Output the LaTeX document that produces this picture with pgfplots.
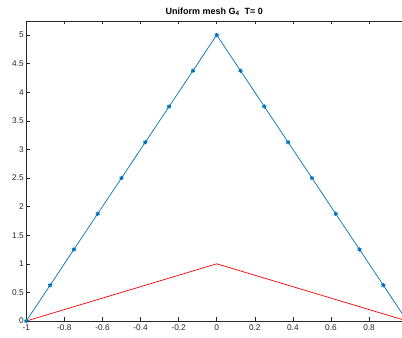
\documentclass[border=0pt]{standalone}
\usepackage{pgfplots}
\pgfplotsset{compat=1.18}
\usepackage{fontspec}
\setmainfont{Liberation Sans}
\definecolor{mblue}{rgb}{0,0.447,0.741}
\definecolor{axgray}{rgb}{0.15,0.15,0.15}
\begin{document}
\begin{tikzpicture}
\begin{axis}[
  at={(26.3bp,17bp)}, anchor=south west,
  scale only axis, width=375.7bp, height=300bp,
  xmin=-1, xmax=0.973, ymin=0, ymax=5.245,
  axis x line=box, axis y line*=left,
  x axis line style={-}, y axis line style={-},
  axis line style={axgray, line width=0.5bp},
  xtick={-1,-0.8,...,0.8},
  ytick={0,0.5,...,5},
  tick align=inside, major tick length=3.5bp,
  tick style={axgray, line width=0.5bp},
  /pgf/number format/assume math mode=true,
  xticklabel style={font=\fontsize{8.3bp}{10bp}\selectfont, text=axgray},
  yticklabel style={font=\fontsize{8.3bp}{10bp}\selectfont, text=axgray, xshift=1bp},
  xticklabels={-1,-0.8,-0.6,-0.4,-0.2,0,0.2,0.4,0.6,0.8},
  yticklabels={0,0.5,1,1.5,2,2.5,3,3.5,4,4.5,5},
  title={\textbf{Uniform mesh G$_{\mathbf 4}$\ \ T= 0}},
  title style={font=\fontsize{9bp}{11bp}\selectfont, yshift=-4bp},
  clip=true,
]
% nodal values on the uniform mesh
\addplot[color=mblue, line width=0.7bp, mark=asterisk, mark size=2.2bp,
  mark options={line width=1bp}] coordinates {
  (-1,0) (-0.875,0.625) (-0.75,1.25) (-0.625,1.875) (-0.5,2.5)
  (-0.375,3.125) (-0.25,3.75) (-0.125,4.375) (0,5)
  (0.125,4.375) (0.25,3.75) (0.375,3.125) (0.5,2.5)
  (0.625,1.875) (0.75,1.25) (0.875,0.625) (1,0)
};
% coarse hat function
\addplot[color=red, line width=0.7bp] coordinates {
  (-1,0) (0,1) (1,0)
};
\end{axis}
\pgfresetboundingbox
\useasboundingbox (0,0) rectangle (402bp,338bp);
\end{tikzpicture}
\end{document}
